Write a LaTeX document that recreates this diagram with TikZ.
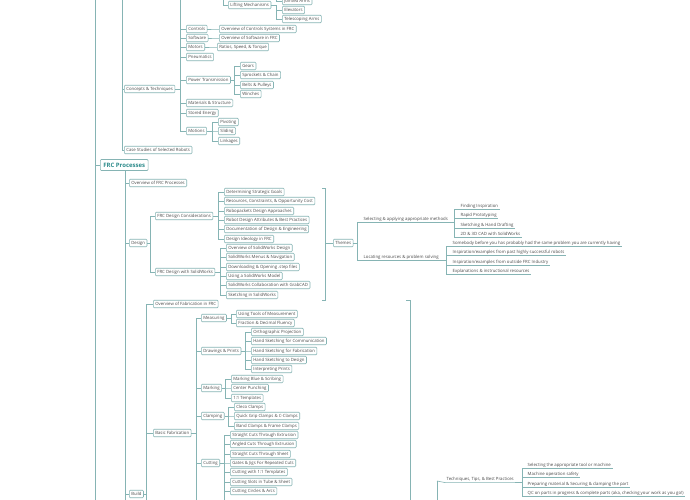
\documentclass[tikz,border=0pt]{standalone}
\usepackage{fontspec}
\setmainfont{Open Sans}
\definecolor{ln}{HTML}{86B4B4}
\definecolor{tx}{HTML}{4A4A4A}
\definecolor{hd}{HTML}{2E8C8C}
\begin{document}
\begin{tikzpicture}[x=1pt,y=-1pt,
 b/.style={draw=ln,line width=0.6pt,rounded corners=1pt,fill=white,anchor=west,inner xsep=2pt,inner ysep=1.2pt,font=\fontsize{4.3}{5}\selectfont,text=tx,minimum height=7.5pt},
 t/.style={anchor=west,inner xsep=1.5pt,inner ysep=1.2pt,font=\fontsize{4.3}{5}\selectfont,text=tx},
 l/.style={draw=ln,line width=0.6pt}]
\fill[white] (0,0) rectangle (690,500);
\useasboundingbox (0,0) rectangle (690,500);
\newcommand\cn[3]{\draw[l] (#2.west) -- ++(-#3,0) |- (#1.east);}
\newcommand\ct[3]{\draw[l] (#2.south west) -- ++(-#3,0) |- (#1.east);}
% spines
\draw[l] (95,0) -- (95,500);
\draw[l] (122,0) |- (124,150);
\draw[l] (180,0) -- (180,29);
\draw[l] (223,0) -- (223,5);
\draw[l] (276,0) -- (276,1);
% Concepts
\node[b] (ct) at (124,89) {Concepts \& Techniques};
\node[b] (cs) at (124,150) {Case Studies of Selected Robots};
\draw[l] (122,89) -- (ct.west);
\draw[l] (122,150) -- (cs.west);
\node[b] (lm) at (228,5) {Lifting Mechanisms};
\draw[l] (223,5) -- (lm.west);
\node[b] (ja) at (282,1) {Jointed Arms};
\node[b] (el) at (282,10) {Elevators};
\node[b] (ta) at (282,19) {Telescoping Arms};
\draw[l] (276,1) -- (ja.west);
\cn{lm}{el}{6}\cn{lm}{ta}{6}
\foreach \n/\y/\s in {co/29/Controls,sw/38/Software,mo/47/Motors,pn/57/Pneumatics,pt/80/Power Transmission,ms/103/Materials \& Structure,se/113/Stored Energy,mt/131/Motions}
 {\node[b] (\n) at (186,\y) {\s}; \cn{ct}{\n}{6}}
\node[b] (ocs) at (219,29) {Overview of Controls Systems in FRC}; \cn{co}{ocs}{4}
\node[b] (osw) at (219,38) {Overview of Software in FRC}; \cn{sw}{osw}{4}
\node[b] (rst) at (217,47) {Ratios, Speed, \& Torque}; \cn{mo}{rst}{4}
\foreach \n/\y/\s in {g1/66/Gears,g2/75/Sprockets \& Chain,g3/85/Belts \& Pulleys,g4/94/Winches}
 {\node[b] (\n) at (240,\y) {\s}; \cn{pt}{\n}{6}}
\foreach \n/\y/\s in {m1/122/Pivoting,m2/131/Sliding,m3/141/Linkages}
 {\node[b] (\n) at (218,\y) {\s}; \cn{mt}{\n}{6}}
% FRC Processes
\node[b,font=\fontsize{6}{7}\selectfont\bfseries,text=hd,inner xsep=3pt,minimum height=11pt] (fp) at (100,165) {FRC Processes};
\draw[l] (95,165) -- (fp.west);
\draw[l] (125,171) -- (125,500);
\node[b] (ofp) at (129,183) {Overview of FRC Processes};
\node[b] (de) at (129,243) {Design};
\node[b] (bu) at (129,494) {Build};
\foreach \n in {ofp,de,bu} \draw[l] (125,0|-\n.west) -- (\n.west);
\node[b] (dc) at (155,216) {FRC Design Considerations};
\node[b] (ds) at (155,272) {FRC Design with SolidWorks};
\cn{de}{dc}{5}\cn{de}{ds}{5}
\foreach \n/\y/\s in {c1/192/Determining Strategic Goals,c2/201/{Resources, Constraints, \& Opportunity Cost},c3/211/Robopackets Design Approaches,c4/220/Robot Design Attributes \& Best Practices,c5/229/Documentation of Design \& Engineering,c6/239/Design Ideology in FRC}
 {\node[b] (\n) at (224,\y) {\s}; \cn{dc}{\n}{6}}
\foreach \n/\y/\s in {s1/248/Overview of SolidWorks Design,s2/257/SolidWorks Menus \& Navigation,s3/267/Downloading \& Opening .step files,s4/276/Using a SolidWorks Model,s5/285/SolidWorks Collaboration with GrabCAD,s6/295/Sketching in SolidWorks}
 {\node[b] (\n) at (226,\y) {\s}; \cn{ds}{\n}{6}}
% Themes bracket
\draw[l] (322,188) -- (325,188) -- (325,300) -- (322,300);
\node[b] (th) at (333,243) {Themes};
\draw[l] (325,243) -- (th.west);
\node[t] (sa) at (362,219) {Selecting \& applying appropriate methods};
\node[t] (lr) at (362,257) {Locating resources \& problem solving};
\ct{th}{sa}{5}\ct{th}{lr}{5}
\foreach \n/\y/\s in {f1/206/Finding Inspiration,f2/215/Rapid Prototyping,f3/225/Sketching \& Hand Drafting,f4/234/2D \& 3D CAD with SolidWorks}
 {\node[t] (\n) at (459,\y) {\s}; \draw[l] (\n.south west)--(\n.south east); \draw[l] (\n.south west) -- ++(-5,0) |- (sa.south east);}
\foreach \n/\y/\s in {r1/243/{Somebody before you has probably had the same problem you are currently having},r2/252/{Inspiration/examples from past highly successful robots},r3/262/{Inspiration/examples from outside FRC Industry},r4/271/{Explanations \& instructional resources}}
 {\node[t] (\n) at (451,\y) {\s}; \draw[l] (\n.south west)--(\n.south east); \draw[l] (\n.south west) -- ++(-5,0) |- (lr.south east);}
\draw[l] (sa.south west)--(sa.south east); \draw[l] (lr.south west)--(lr.south east);
% Build
\draw[l] (146,304) -- (146,500);
\node[b] (ofa) at (153,304) {Overview of Fabrication in FRC};
\node[b] (bf) at (153,433) {Basic Fabrication};
\foreach \n in {ofa,bf} \draw[l] (146,0|-\n.west) -- (\n.west);
\draw[l] (bu.east) -- (146,494);
\draw[l] (196,318) -- (196,500);
\draw[l] (bf.east) -- (196,433);
\foreach \n/\y/\s in {me/318/Measuring,dp/351/Drawings \& Prints,mk/388/Marking,cl/416/Clamping,cu/463/Cutting}
 {\node[b] (\n) at (201,\y) {\s}; \draw[l] (196,\y) -- (\n.west);}
\foreach \n/\y/\s in {a1/314/Using Tools of Measurement,a2/323/Fraction \& Decimal Fluency}
 {\node[b] (\n) at (236,\y) {\s}; \cn{me}{\n}{5}}
\foreach \n/\y/\s in {d1/332/Orthographic Projection,d2/341/Hand Sketching for Communication,d3/351/Hand Sketching for Fabrication,d4/360/Hand Sketching to Design,d5/369/Interpreting Prints}
 {\node[b] (\n) at (251,\y) {\s}; \cn{dp}{\n}{6}}
\foreach \n/\y/\s in {k1/379/Marking Blue \& Scribing,k2/388/Center Punching,k3/398/1:1 Templates}
 {\node[b] (\n) at (231,\y) {\s}; \cn{mk}{\n}{6}}
\foreach \n/\y/\s in {q1/407/Cleco Clamps,q2/416/Quick Grip Clamps \& C-Clamps,q3/426/Band Clamps \& Frame Clamps}
 {\node[b] (\n) at (234,\y) {\s}; \cn{cl}{\n}{6}}
\foreach \n/\y/\s in {u1/435/Straight Cuts Through Extrusion,u2/444/Angled Cuts Through Extrusion,u3/454/Straight Cuts Through Sheet,u4/463/Gates \& Jigs For Repeated Cuts,u5/472/Cutting with 1:1 Templates,u6/482/Cutting Slots in Tube \& Sheet,u7/491/Cutting Circles \& Arcs}
 {\node[b] (\n) at (230,\y) {\s}; \cn{cu}{\n}{6}}
\draw[l] (224,491) -- (224,500);
% right bracket
\draw[l] (406,300) -- (410,300) -- (410,500);
\draw[l] (437,481) -- (437,500);
\node[t] (tt) at (445,479) {Techniques, Tips, \& Best Practices};
\draw[l] (437,481) -- (tt.south west) -- (tt.south east);
\foreach \n/\y/\s in {p1/465/Selecting the appropriate tool or machine,p2/474/Machine operation safety,p3/484/Preparing material \& Securing \& clamping the part,p4/493/{QC on parts in progress \& complete parts (aka, checking your work as you go!)}}
 {\node[t] (\n) at (526,\y) {\s}; \draw[l] (\n.south west)--(\n.south east); \draw[l] (\n.south west) -- ++(-4,0) |- (tt.south east);}
\end{tikzpicture}
\end{document}
